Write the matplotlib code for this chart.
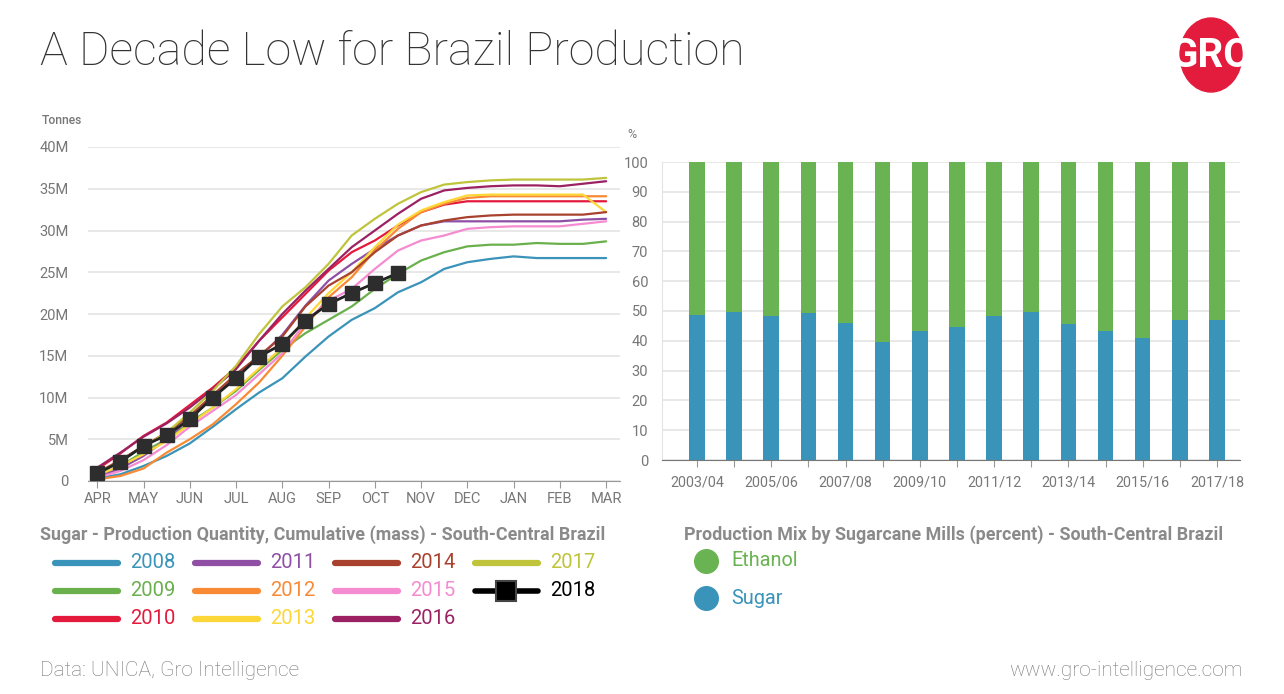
import matplotlib.pyplot as plt
import numpy as np
from matplotlib.lines import Line2D
from matplotlib.patches import Ellipse

plt.rcParams['font.family'] = ['Roboto', 'DejaVu Sans']

# ---- left chart data: cumulative sugar production (million tonnes), semi-monthly from APR
months = ["APR", "MAY", "JUN", "JUL", "AUG", "SEP", "OCT", "NOV", "DEC", "JAN", "FEB", "MAR"]
steps = np.arange(0, 11.01, 0.5)

prod_2008 = [0.3, 0.8, 1.8, 3.0, 4.5, 6.5, 8.6, 10.6, 12.3, 14.9, 17.3, 19.3, 20.7, 22.6,
             23.8, 25.4, 26.2, 26.6, 26.9, 26.7, 26.7, 26.7, 26.7]
prod_2009 = [0.6, 1.8, 3.5, 5.0, 7.0, 8.8, 10.8, 13.3, 15.7, 17.7, 19.3, 20.9, 23.0, 24.8,
             26.4, 27.4, 28.1, 28.3, 28.3, 28.5, 28.4, 28.4, 28.7]
prod_2010 = [1.4, 3.3, 5.4, 7.0, 9.1, 11.2, 13.6, 16.8, 19.6, 22.4, 25.2, 27.4, 28.8, 30.6,
             32.2, 33.1, 33.5, 33.5, 33.5, 33.5, 33.5, 33.5, 33.5]
prod_2011 = [0.5, 1.5, 3.0, 5.0, 7.5, 10.0, 12.5, 14.8, 17.5, 21.0, 24.0, 26.0, 27.8, 29.4,
             30.6, 31.1, 31.1, 31.1, 31.1, 31.1, 31.1, 31.3, 31.4]
prod_2012 = [0.2, 0.6, 1.5, 3.4, 5.0, 6.8, 9.2, 11.8, 15.0, 18.5, 22.0, 24.4, 27.6, 30.2,
             32.2, 33.2, 33.9, 34.1, 34.1, 34.1, 34.1, 34.1, 34.1]
prod_2013 = [0.7, 1.8, 3.2, 4.8, 6.8, 8.8, 11.0, 13.5, 16.0, 19.5, 22.5, 25.0, 28.0, 30.7,
             32.4, 33.4, 34.2, 34.3, 34.3, 34.3, 34.3, 34.3, 32.2]
prod_2014 = [1.0, 2.5, 4.2, 5.8, 7.8, 10.3, 12.8, 15.0, 17.3, 20.9, 23.4, 25.0, 27.4, 29.4,
             30.6, 31.2, 31.6, 31.8, 31.9, 31.9, 31.9, 31.9, 32.2]
prod_2015 = [0.4, 1.2, 2.5, 4.3, 6.5, 8.4, 10.3, 12.8, 15.3, 19.0, 21.6, 23.0, 25.4, 27.6,
             28.8, 29.4, 30.2, 30.4, 30.5, 30.5, 30.5, 30.8, 31.1]
prod_2016 = [1.6, 3.4, 5.3, 6.9, 8.8, 11.0, 13.4, 16.8, 20.0, 22.8, 25.4, 28.0, 30.0, 32.0,
             33.8, 34.8, 35.1, 35.3, 35.4, 35.4, 35.3, 35.6, 35.9]
prod_2017 = [0.8, 2.4, 4.1, 5.8, 8.2, 10.8, 13.8, 17.6, 20.9, 23.2, 26.0, 29.4, 31.4, 33.2,
             34.6, 35.5, 35.8, 36.0, 36.1, 36.1, 36.1, 36.1, 36.3]
prod_2018 = [0.9, 2.3, 4.2, 5.5, 7.4, 10.0, 12.3, 14.9, 16.4, 19.2, 21.2, 22.5, 23.7, 24.9]

years = ["2008", "2009", "2010", "2011", "2012", "2013", "2014", "2015", "2016", "2017"]
year_colors = ["#3a93b8", "#6ab04c", "#e31a3c", "#8e4fa5", "#f98a35",
               "#fdd738", "#a8412d", "#f58bd0", "#9b2163", "#bfc43a"]
series = [prod_2008, prod_2009, prod_2010, prod_2011, prod_2012,
          prod_2013, prod_2014, prod_2015, prod_2016, prod_2017]

# ---- right chart data: production mix (%)
seasons = ["2003/04", "2004/05", "2005/06", "2006/07", "2007/08", "2008/09", "2009/10", "2010/11",
           "2011/12", "2012/13", "2013/14", "2014/15", "2015/16", "2016/17", "2017/18"]
sugar_share = [48.8, 49.8, 48.2, 49.2, 46.1, 39.7, 43.4, 44.7, 48.3, 49.8, 45.6, 43.4, 41.0, 47.1, 47.1]
ethanol_share = [51.2, 50.2, 51.8, 50.8, 53.9, 60.3, 56.6, 55.3, 51.7, 50.2, 54.4, 56.6, 59.0, 52.9, 52.9]

W, H = 1284, 694
fig = plt.figure(figsize=(W / 100, H / 100), dpi=100)


def px(x, y):
    return x / W, 1 - y / H


grey = "#8a8a8a"
grid = "#e4e4e4"

# ---- left axes
ax = fig.add_axes([88 / W, 1 - 481 / H, (620 - 88) / W, (481 - 147) / H])
for yr, col, vals in zip(years, year_colors, series):
    ax.plot(steps, vals, color=col, lw=1.6, solid_capstyle="round", zorder=2)
ax.plot(steps[:len(prod_2018)], prod_2018, color="#222222", lw=2, marker="s", ms=9.5,
        mfc="#2d2d2d", mec="#2d2d2d", zorder=3)
ax.set_xlim(-0.2, 11.3)
ax.set_ylim(0, 40)
ax.set_yticks(np.arange(0, 41, 5))
ax.set_yticklabels(["0"] + [f"{v}M" for v in range(5, 41, 5)])
ax.set_xticks(np.arange(12))
ax.set_xticklabels(months)
ax.grid(axis="y", color=grid, lw=1.2)
ax.set_axisbelow(True)
for s in ["left", "right", "top"]:
    ax.spines[s].set_visible(False)
ax.spines["bottom"].set_color("#999999")
ax.tick_params(axis="y", length=0, pad=14, labelsize=10.5, labelcolor="#777777")
ax.tick_params(axis="x", length=5, color="#999999", pad=3, labelsize=10.5, labelcolor="#777777")
fig.text(*px(42, 121), "Tonnes", fontsize=8.7, color="#777777", weight="medium", va="center")

# ---- right axes
bx = fig.add_axes([662 / W, 1 - 460 / H, (1240 - 662) / W, (460 - 162) / H])
pos = np.arange(len(seasons))
bx.bar(pos, sugar_share, width=0.42, color="#3a93b8", zorder=2)
bx.bar(pos, ethanol_share, bottom=sugar_share, width=0.42, color="#6ab352", zorder=2)
bx.set_xlim(-0.94, 14.62)
bx.set_ylim(0, 100)
bx.set_yticks(np.arange(0, 101, 10))
bx.set_xticks(pos)
bx.set_xticklabels([s if i % 2 == 0 else "" for i, s in enumerate(seasons)])
bx.grid(axis="y", color=grid, lw=1.2)
bx.set_axisbelow(True)
for s in ["right", "top"]:
    bx.spines[s].set_visible(False)
bx.spines["left"].set_color("#e4e4e4")
bx.spines["bottom"].set_color("#777777")
bx.tick_params(axis="y", length=0, pad=10, labelsize=10.5, labelcolor="#777777")
bx.tick_params(axis="x", length=5, color="#999999", pad=6, labelsize=10.3, labelcolor="#777777")
fig.text(*px(627, 135), "%", fontsize=9, color="#777777", va="center")

# ---- title, logo, footer
fig.text(*px(40, 52), "A Decade Low for Brazil Production", fontsize=33.6, weight="light",
         color="#333333", va="center")
fig.patches.append(Ellipse(px(1211, 55), 62 / W, 74 / H, transform=fig.transFigure,
                           color="#e31b3c", zorder=1))
fig.text(*px(1211, 56), "GRO", fontsize=29, weight="bold", color="white",
         ha="center", va="center", zorder=2)
fig.text(*px(40, 670), "Data: UNICA, Gro Intelligence", fontsize=15, color="#777777",
         weight="light", va="center")
fig.text(*px(1243, 670), "www.gro-intelligence.com", fontsize=15, color="#777777",
         weight="light", va="center", ha="right")

# ---- left legend
fig.text(*px(40, 535), "Sugar - Production Quantity, Cumulative (mass) - South-Central Brazil",
         fontsize=12.85, color=grey, weight="bold", va="center")
col_x = [55, 195, 335, 475]
row_y = [563, 591, 619]
labels = years + ["2018"]
cols = year_colors + ["black"]
for i, (lab, col) in enumerate(zip(labels, cols)):
    cx = col_x[i // 3]
    cy = row_y[i % 3]
    x0, y0 = px(cx, cy)
    x1, _ = px(cx + 63, cy)
    if lab == "2018":
        fig.add_artist(Line2D([x0, x1], [y0, y0], transform=fig.transFigure, color="black",
                              lw=4, solid_capstyle="round"))
        fig.add_artist(Line2D([(x0 + x1) / 2], [y0], transform=fig.transFigure, marker="s",
                              ms=14, mfc="black", mec="#444444", mew=1.5))
        tcol = "black"
    else:
        fig.add_artist(Line2D([x0, x1], [y0, y0], transform=fig.transFigure, color=col,
                              lw=4.5, solid_capstyle="round"))
        tcol = col
    fig.text(*px(cx + 75, cy), lab, fontsize=14.5, color=tcol, va="center")

# ---- right legend
fig.text(*px(684, 535), "Production Mix by Sugarcane Mills (percent) - South-Central Brazil",
         fontsize=12.85, color=grey, weight="bold", va="center")
for lab, col, cy in [("Ethanol", "#6ab352", 561), ("Sugar", "#3a93b8", 598)]:
    fig.add_artist(Line2D([px(706, cy)[0]], [px(706, cy)[1]], transform=fig.transFigure,
                          marker="o", ms=17, mfc=col, mec=col))
    fig.text(*px(731, cy), lab, fontsize=14.3, color=col, va="center")

fig.savefig("out.png", dpi=100)
